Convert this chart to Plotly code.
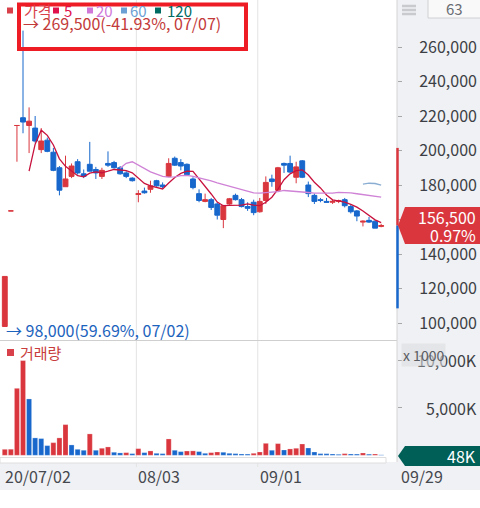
import plotly.graph_objects as go
import pandas as pd

# daily data, 2020-07-02 .. 2020-09-29 (prices in KRW, volume in thousand shares)
dates = [
    "2020-07-02", "2020-07-03", "2020-07-06", "2020-07-07", "2020-07-08", "2020-07-09", "2020-07-10",
    "2020-07-13", "2020-07-14", "2020-07-15", "2020-07-16", "2020-07-17", "2020-07-20", "2020-07-21",
    "2020-07-22", "2020-07-23", "2020-07-24", "2020-07-27", "2020-07-28", "2020-07-29", "2020-07-30",
    "2020-07-31", "2020-08-03", "2020-08-04", "2020-08-05", "2020-08-06", "2020-08-07", "2020-08-10",
    "2020-08-11", "2020-08-12", "2020-08-13", "2020-08-14", "2020-08-18", "2020-08-19", "2020-08-20",
    "2020-08-21", "2020-08-24", "2020-08-25", "2020-08-26", "2020-08-27", "2020-08-28", "2020-08-31",
    "2020-09-01", "2020-09-02", "2020-09-03", "2020-09-04", "2020-09-07", "2020-09-08", "2020-09-09",
    "2020-09-10", "2020-09-11", "2020-09-14", "2020-09-15", "2020-09-16", "2020-09-17", "2020-09-18",
    "2020-09-21", "2020-09-22", "2020-09-23", "2020-09-24", "2020-09-25", "2020-09-28", "2020-09-29",
]
opens = [
    98000, 165000, 214500, 219000, 214500, 213000, 200500, 206000, 199000, 190000, 179000, 185000,
    193500, 186500, 192000, 189000, 185000, 192500, 193000, 190000, 187000, 184000, 174500, 176500,
    177500, 182500, 180000, 185000, 195500, 193000, 192000, 183500, 175000, 170500, 171500, 169000,
    160000, 169000, 174000, 171500, 167500, 170000, 164500, 171000, 183500, 177000, 192500, 192500,
    184500, 194000, 180000, 174000, 171500, 170500, 170000, 170500, 171500, 167500, 165000, 158500,
    159500, 159000, 156000,
]
highs = [
    127000, 165000, 214500, 269500, 225000, 220000, 213000, 207500, 201500, 191000, 197000, 192500,
    195000, 189000, 205000, 190500, 190000, 199500, 194000, 191000, 188000, 184500, 177000, 178500,
    182500, 183000, 181500, 195500, 196500, 195000, 192500, 184500, 177500, 175000, 172500, 170000,
    168500, 172500, 175000, 172500, 170000, 171500, 172500, 185000, 186000, 190500, 193000, 197000,
    193500, 194500, 182000, 175000, 172500, 172500, 171500, 171500, 172500, 168500, 165500, 159500,
    161500, 159500, 157500,
]
lows = [
    98000, 165000, 193500, 210000, 198500, 204500, 198500, 199000, 188000, 174000, 179000, 184000,
    186000, 184000, 188000, 183500, 183500, 190500, 189500, 186000, 184000, 182000, 170000, 175000,
    175500, 179000, 178000, 185000, 191000, 188500, 185500, 177500, 170000, 170000, 165500, 160000,
    155000, 168500, 171000, 167000, 165000, 162500, 164000, 169000, 179000, 176500, 187000, 187000,
    181000, 184000, 173000, 169000, 170000, 170000, 169000, 169500, 167000, 163500, 159000, 156000,
    158000, 155000, 155500,
]
closes = [
    127000, 165000, 214500, 216500, 217000, 205500, 205500, 199500, 188500, 177000, 183500, 191000,
    187000, 185000, 188000, 187000, 188500, 191500, 190000, 186500, 185000, 182500, 175000, 175500,
    179500, 179500, 179000, 192500, 191500, 191000, 186000, 178500, 171000, 171500, 167000, 162500,
    168000, 172000, 171500, 167500, 166500, 164000, 170500, 181500, 182000, 190000, 191500, 187500,
    190500, 184500, 175000, 170500, 171000, 170000, 170500, 171000, 168000, 164500, 162000, 159000,
    158500, 155000, 156500,
]
volumes = [
    630, 640, 7050, 9970, 5930, 1830, 1760, 1020, 1330, 1830, 3230, 1090, 630, 530, 2250, 530,
    740, 880, 320, 250, 280, 175, 700, 280, 460, 210, 175, 1720, 530, 385, 450, 465, 390, 210,
    280, 350, 320, 210, 175, 140, 130, 210, 350, 1260, 530, 1230, 560, 670, 740, 1190, 770, 350,
    175, 170, 140, 105, 175, 140, 130, 245, 120, 135, 48,
]
ma_periods = [5, 20, 60]
price_ticks = [100000, 120000, 140000, 160000, 180000, 200000, 220000, 240000, 260000]
volume_ticks = [5000, 10000]
date_ticks = {"2020-07-02": "20/07/02", "2020-08-03": "08/03", "2020-09-01": "09/01"}
last_date_label = "09/29"

UP = "#d9363e"
DOWN = "#1767cc"
MA_COLORS = {5: "#c8123e", 20: "#cf82d6", 60: "#8aaed2"}
FONT = "Noto Sans CJK KR, Noto Sans, sans-serif"

PLOT_W, PLOT_H = 397, 460
Y_TOP, Y_BOT = 287250, 90150
V_TOP, V_BOT = 12031, -495


def px(x):
    return x / PLOT_W


def py(y):
    return (PLOT_H - y) / PLOT_H


def price_px(p):
    return 340 * (Y_TOP - p) / (Y_TOP - Y_BOT)


n = len(dates)
s = pd.Series(closes)

fig = go.Figure()
fig.add_trace(go.Candlestick(
    x=dates, open=opens, high=highs, low=lows, close=closes,
    increasing=dict(line=dict(color=UP, width=1), fillcolor=UP),
    decreasing=dict(line=dict(color=DOWN, width=1), fillcolor=DOWN),
    whiskerwidth=0, xaxis="x", yaxis="y", showlegend=False,
))
for p in ma_periods:
    fig.add_trace(go.Scatter(
        x=dates, y=s.rolling(p).mean(), mode="lines",
        line=dict(color=MA_COLORS[p], width=1.3),
        xaxis="x", yaxis="y", showlegend=False, hoverinfo="skip",
    ))

vol_colors = [UP if i == 0 or volumes[i] >= volumes[i - 1] else DOWN for i in range(n)]
fig.add_trace(go.Bar(
    x=dates, y=volumes, marker=dict(color=vol_colors, line=dict(color="rgba(255,255,255,0.5)", width=0.5)),
    xaxis="x2", yaxis="y2", showlegend=False,
))

x_range = [-0.79, 64.61]
fig.update_layout(
    width=480, height=508,
    margin=dict(l=0, r=480 - PLOT_W, t=0, b=508 - PLOT_H),
    paper_bgcolor="white", plot_bgcolor="white",
    font=dict(family=FONT, color="#3c3f45"),
    boxgap=0.2, boxgroupgap=0, bargap=0.17,
    xaxis=dict(domain=[0, 1], type="category", range=x_range, anchor="y",
               showticklabels=False, showgrid=False, zeroline=False, rangeslider=dict(visible=False)),
    xaxis2=dict(domain=[0, 1], type="category", range=x_range, anchor="y2", matches="x",
                showticklabels=False, showgrid=False, zeroline=False),
    yaxis=dict(domain=[py(340), 1], range=[Y_BOT, Y_TOP], side="right", anchor="x",
               tickvals=price_ticks, ticktext=[f"{v:,}" for v in price_ticks],
               ticks="outside", ticklen=4, tickcolor="#a8a8a8", ticklabelstandoff=14,
               tickfont=dict(size=16, color="#3c3f45"), showgrid=False, zeroline=False),
    yaxis2=dict(domain=[0, py(341)], range=[V_BOT, V_TOP], side="right", anchor="x2",
                tickvals=volume_ticks, showticklabels=False,
                ticks="outside", ticklen=4, tickcolor="#a8a8a8", showgrid=False, zeroline=False),
)

shapes = []
grey = "#f0f1f4"
# right axis panel and bottom date band
shapes.append(dict(type="rect", xref="paper", yref="paper", x0=px(397), x1=px(480), y0=py(490), y1=py(0),
                   fillcolor=grey, line=dict(width=0), layer="below"))
shapes.append(dict(type="rect", xref="paper", yref="paper", x0=0, x1=px(397), y0=py(490), y1=py(462),
                   fillcolor=grey, line=dict(width=0), layer="below"))
# scroll thumb
shapes.append(dict(type="rect", xref="paper", yref="paper", x0=0, x1=px(386), y0=py(463), y1=py(457.5),
                   fillcolor="white", line=dict(color="#dedede", width=1), layer="above"))
# vertical grid lines at month starts
for d in list(date_ticks)[1:]:
    i = dates.index(d) - 0.33
    shapes.append(dict(type="line", xref="x", yref="paper", x0=i, x1=i, y0=py(467), y1=1,
                       line=dict(color="#e3e3e3", width=1), layer="below"))
# pane separator and axis border
shapes.append(dict(type="line", xref="paper", yref="paper", x0=0, x1=px(397), y0=py(340.5), y1=py(340.5),
                   line=dict(color="#cfcfcf", width=1)))
shapes.append(dict(type="line", xref="paper", yref="paper", x0=px(397), x1=px(397), y0=py(462), y1=1,
                   line=dict(color="#d4d4d4", width=1)))
# daily price limit bar (+/-30% of previous close)
prev_close, last_close = closes[-2], closes[-1]
shapes.append(dict(type="line", xref="paper", yref="y", x0=px(397.5), x1=px(397.5),
                   y0=last_close, y1=prev_close * 1.3, line=dict(color=UP, width=2.5)))
shapes.append(dict(type="line", xref="paper", yref="y", x0=px(397.5), x1=px(397.5),
                   y0=prev_close * 0.7, y1=last_close, line=dict(color=DOWN, width=2.5)))


def tag_path(yc, half):
    return (f"M {px(398)},{py(yc)} L {px(405)},{py(yc - half)} L {px(481)},{py(yc - half)} "
            f"L {px(481)},{py(yc + half)} L {px(405)},{py(yc + half)} Z")


yc = price_px(last_close)
shapes.append(dict(type="path", xref="paper", yref="paper", path=tag_path(yc, 18.5),
                   fillcolor=UP, line=dict(width=0)))
shapes.append(dict(type="path", xref="paper", yref="paper", path=tag_path(456, 10),
                   fillcolor="#005f57", line=dict(width=0)))
# menu icon and period box
for yy in (6, 10, 14):
    shapes.append(dict(type="line", xref="paper", yref="paper", x0=px(402), x1=px(416), y0=py(yy), y1=py(yy),
                       line=dict(color="#c9cacd", width=2.5)))
shapes.append(dict(type="rect", xref="paper", yref="paper", x0=px(428), x1=px(484), y0=py(18), y1=py(-3),
                   fillcolor="#f9f9fa", line=dict(color="#cfd0d3", width=1)))
# highlight box around the high marker
shapes.append(dict(type="rect", xref="paper", yref="paper", x0=px(19), x1=px(246), y0=py(49), y1=py(4.5),
                   line=dict(color="#ee1c24", width=4), layer="above"))
# legend squares
legend_items = [("가격", "#d8414a", 7, 22), ("5", "#e0104a", 53, 62), ("20", "#cf78d8", 87, 94),
                ("60", "#6c9fd3", 121, 128), ("120", "#006b62", 155, 165)]
for _, c, sx, _ in legend_items:
    shapes.append(dict(type="rect", xref="paper", yref="paper", x0=px(sx), x1=px(sx + 6), y0=py(13.5), y1=py(7.5),
                       fillcolor=c, line=dict(width=0)))
shapes.append(dict(type="rect", xref="paper", yref="paper", x0=px(7), x1=px(14), y0=py(356), y1=py(349),
                   fillcolor="#d8414a", line=dict(width=0)))

annotations = []


def label(x, y, text, color, size=15, anchor="left", **kw):
    annotations.append(dict(xref="paper", yref="paper", x=px(x), y=py(y), text=text, showarrow=False,
                            xanchor=anchor, yanchor="middle", font=dict(size=size, color=color, family=FONT), **kw))


for text, c, _, tx in legend_items:
    label(tx, 10.5, text, c, size=15)

hi_i = highs.index(max(highs))
lo_i = lows.index(min(lows))
hi_pct = (last_close / max(highs) - 1) * 100
lo_pct = (last_close / min(lows) - 1) * 100
label(21, 23, f"→ {max(highs):,}({hi_pct:.2f}%, {dates[hi_i][5:].replace('-', '/')})", "#c33a3a", size=16)
label(4, 330, f"→ {min(lows):,}({lo_pct:.2f}%, {dates[lo_i][5:].replace('-', '/')})", "#1c63bd", size=16)
label(18, 352.5, "거래량", "#c83c3c", size=15)

# date labels
for d, t in date_ticks.items():
    annotations.append(dict(xref="x", yref="paper", x=dates.index(d) - 0.33, y=py(475.5), text=t,
                            showarrow=False, xanchor="left", yanchor="middle",
                            font=dict(size=16, color="#45484e", family=FONT)))
label(399, 475.5, last_date_label, "#45484e", size=16)

# volume axis labels
for v in volume_ticks:
    ypix = 341 + (V_TOP - v) / (V_TOP - V_BOT) * (PLOT_H - 341)
    label(479, ypix, f"{v:,}K", "#3c3f45", size=16, anchor="right")
label(401, 355, "x 1000", "#5a5d63", size=14, bgcolor="rgba(220,221,224,0.6)")

# current price and volume tags
pct = (last_close / prev_close - 1) * 100
label(478, yc - 8.5, f"{last_close:,}", "white", size=16, anchor="right")
label(478, yc + 9.5, f"{pct:.2f}%", "white", size=16, anchor="right")
label(478, 456, f"{volumes[-1]}K", "white", size=16, anchor="right")
label(455, 8, str(n), "#6a6d73", size=15, anchor="center")

fig.update_layout(shapes=shapes, annotations=annotations)
fig.write_html("out.html", config={"displayModeBar": False},
               post_script="document.body.style.margin = '0px';")
